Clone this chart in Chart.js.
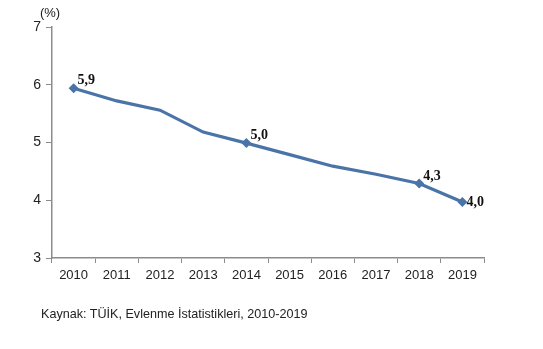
<!DOCTYPE html>
<html>
<head>
<meta charset="utf-8">
<script src="https://cdn.jsdelivr.net/npm/chart.js@4"></script>
<style>
  html, body { margin: 0; padding: 0; background: #fff; }
  #wrap { position: relative; width: 543px; height: 349px; }
  #note {
    position: absolute; left: 41px; top: 307px;
    font: 12.6px "Liberation Sans", Arial, sans-serif; color: #222;
  }
</style>
</head>
<body>
<div id="wrap">
  <canvas id="line-chart" width="543" height="349"></canvas>
  <div id="note">Kaynak: TÜİK, Evlenme İstatistikleri, 2010-2019</div>
</div>
<script>
let years = ["2010", "2011", "2012", "2013", "2014", "2015", "2016", "2017", "2018", "2019"];
let values = [5.94, 5.72, 5.56, 5.18, 4.99, 4.79, 4.59, 4.45, 4.29, 3.97];
let labelText = ["5,9", "", "", "", "5,0", "", "", "", "4,3", "4,0"];
let yTicks = [3, 4, 5, 6, 7];

let lineColor = "#4a74a8";
let axisColor = "#8c8c8c";

// small plugin for value labels and the unit mark
let valueLabels = {
  id: "valueLabels",
  afterDatasetsDraw(chart) {
    let ctx = chart.ctx;
    let meta = chart.getDatasetMeta(0);
    ctx.save();
    ctx.fillStyle = "#111";
    ctx.font = "bold 14px 'Liberation Serif', 'Times New Roman', serif";
    ctx.textBaseline = "alphabetic";
    ctx.textAlign = "left";
    meta.data.forEach((pt, i) => {
      let t = labelText[i];
      if (!t) return;
      if (i === values.length - 1) {
        ctx.fillText(t, pt.x + 4, pt.y + 4);
      } else {
        ctx.fillText(t, pt.x + 4, pt.y - 4);
      }
    });
    ctx.font = "13px 'Liberation Sans', Arial, sans-serif";
    ctx.fillStyle = "#222";
    ctx.textAlign = "center";
    ctx.fillText("(%)", chart.chartArea.left - 2, 17);
    ctx.restore();
  },
};

let ctx = document.getElementById("line-chart").getContext("2d");

new Chart(ctx, {
  type: "line",
  data: {
    labels: years,
    datasets: [
      {
        data: values,
        borderColor: lineColor,
        backgroundColor: lineColor,
        borderWidth: 3.2,
        tension: 0,
        pointStyle: "rectRot",
        pointRadius: labelText.map((t) => (t ? 5 : 0)),
        pointBorderWidth: 0,
      },
    ],
  },
  options: {
    responsive: false,
    animation: false,
    layout: {
      padding: { left: 0, top: 27, right: 59, bottom: 0 },
    },
    plugins: {
      legend: { display: false },
      tooltip: { enabled: false },
    },
    scales: {
      x: {
        offset: true,
        afterFit: (s) => { s.height = 91; },
        border: { color: axisColor, width: 1.5 },
        grid: {
          offset: true,
          drawOnChartArea: false,
          tickLength: 5,
          color: axisColor,
        },
        ticks: {
          padding: 5,
          color: "#222",
          maxRotation: 0,
          font: { family: "'Liberation Sans', Arial, sans-serif", size: 13 },
        },
      },
      y: {
        min: 3,
        max: 7,
        afterFit: (s) => { s.width = 52; },
        afterBuildTicks: (s) => { s.ticks = yTicks.map((v) => ({ value: v })); },
        border: { color: axisColor, width: 1.5 },
        grid: {
          drawOnChartArea: false,
          tickLength: 6,
          color: axisColor,
        },
        ticks: {
          padding: 5,
          color: "#222",
          font: { family: "'Liberation Sans', Arial, sans-serif", size: 14 },
        },
      },
    },
  },
  plugins: [valueLabels],
});
</script>
</body>
</html>
